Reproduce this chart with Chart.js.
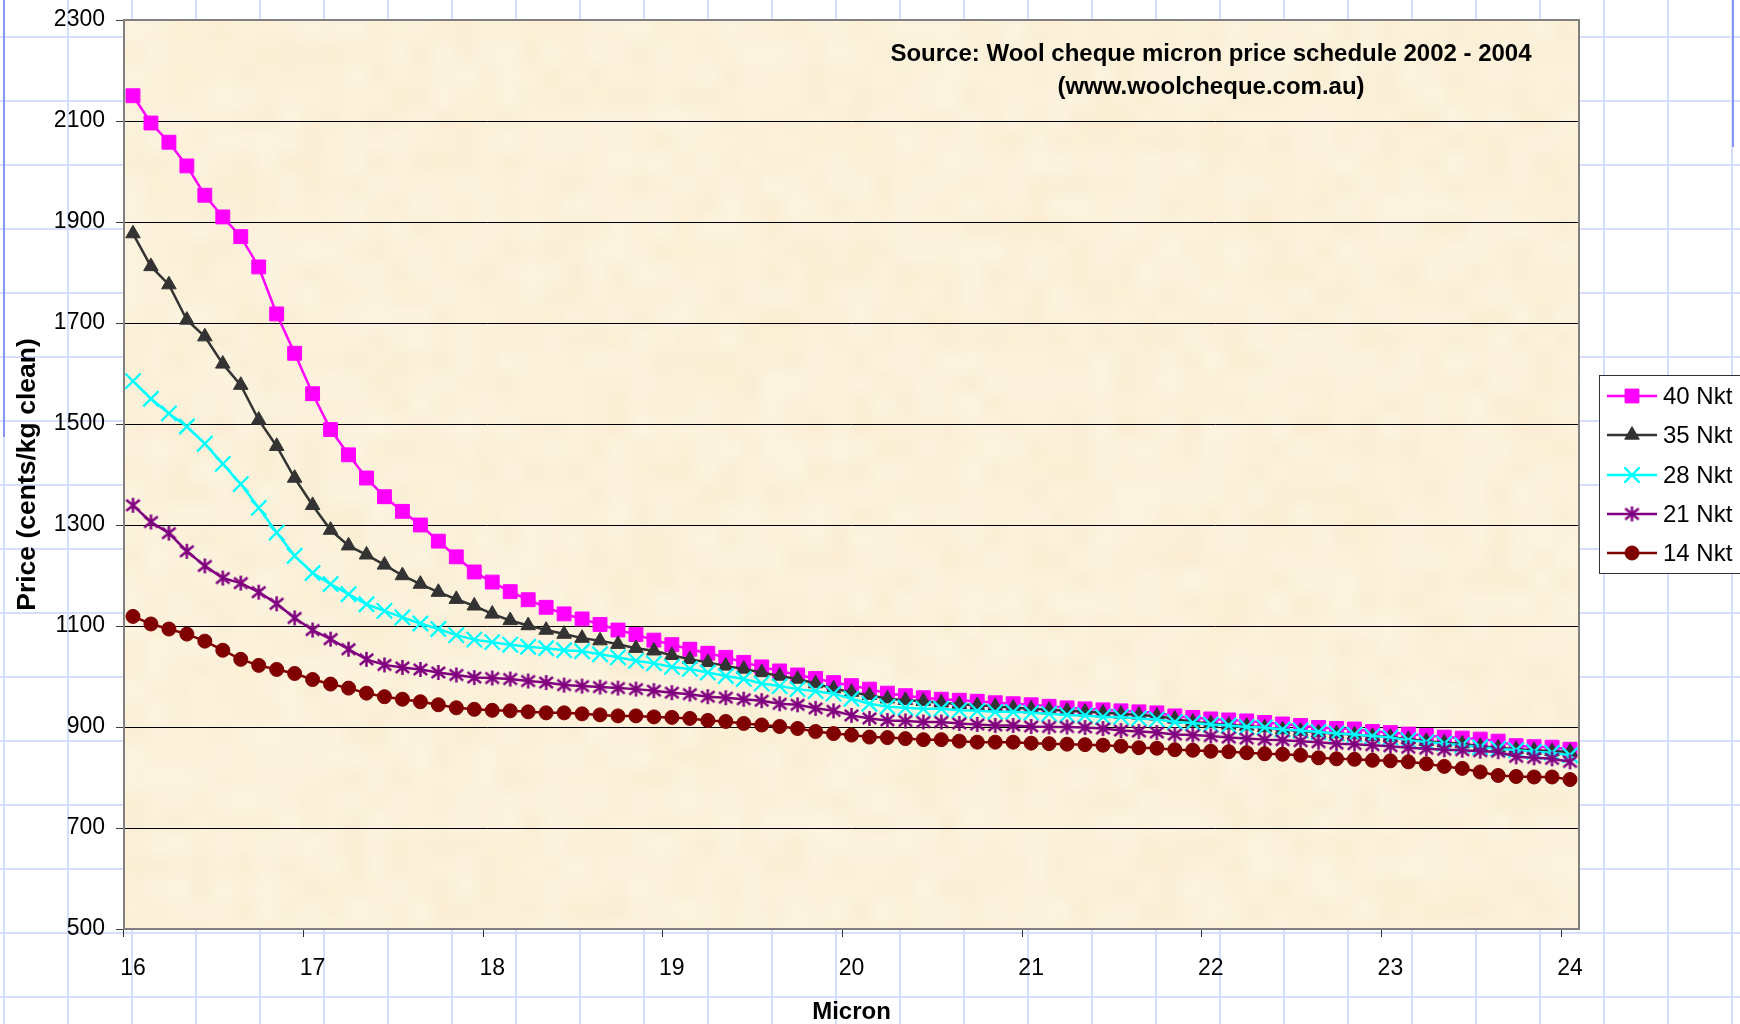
<!DOCTYPE html>
<html>
<head>
<meta charset="utf-8">
<title>Wool price by micron</title>
<script src="https://cdn.jsdelivr.net/npm/chart.js@4.4.1/dist/chart.umd.min.js"></script>
<style>
  html, body { margin: 0; padding: 0; width: 1740px; height: 1024px; overflow: hidden; }
  body {
    background-color: #ffffff;
    background-image:
      linear-gradient(to right, #d5defa 0, #d5defa 2px, transparent 2px),
      linear-gradient(to bottom, #d5defa 0, #d5defa 2px, transparent 2px);
    background-size: 64px 64px;
    background-position: 3px 36px;
  }
  .rule { position: absolute; top: 0; width: 2px; background: #8797f2; }
  #wrap { position: absolute; left: 0; top: 0; width: 1740px; height: 1024px; }
</style>
</head>
<body>
<div class="rule" style="left:3px;height:437px"></div>
<div class="rule" style="left:1732px;height:147px"></div>
<div id="wrap"><canvas id="c" width="1740" height="1024"></canvas></div>
<script>
// Fibre diameter (micron) categories
const microns = [
  16.0, 16.1, 16.2, 16.3, 16.4, 16.5, 16.6, 16.7, 16.8, 16.9,
  17.0, 17.1, 17.2, 17.3, 17.4, 17.5, 17.6, 17.7, 17.8, 17.9,
  18.0, 18.1, 18.2, 18.3, 18.4, 18.5, 18.6, 18.7, 18.8, 18.9,
  19.0, 19.1, 19.2, 19.3, 19.4, 19.5, 19.6, 19.7, 19.8, 19.9,
  20.0, 20.1, 20.2, 20.3, 20.4, 20.5, 20.6, 20.7, 20.8, 20.9,
  21.0, 21.1, 21.2, 21.3, 21.4, 21.5, 21.6, 21.7, 21.8, 21.9,
  22.0, 22.1, 22.2, 22.3, 22.4, 22.5, 22.6, 22.7, 22.8, 22.9,
  23.0, 23.1, 23.2, 23.3, 23.4, 23.5, 23.6, 23.7, 23.8, 23.9,
  24.0
];

// Price, cents/kg clean, per staple strength class
const nkt40 = [
  2150, 2096, 2058, 2011, 1953, 1910, 1871, 1811, 1718, 1640,
  1560, 1489, 1439, 1393, 1356, 1327, 1300, 1268, 1237, 1207,
  1187, 1168, 1152, 1137, 1124, 1114, 1103, 1092, 1083, 1072,
  1063, 1054, 1046, 1038, 1028, 1019, 1011, 1003, 996, 988,
  982, 975, 967, 962, 958, 955, 953, 951, 948, 946,
  944, 941, 938, 936, 934, 932, 930, 928, 922, 919,
  916, 914, 912, 909, 906, 903, 899, 897, 896, 891,
  889, 886, 883, 880, 878, 876, 872, 863, 861, 860,
  856
];
const nkt35 = [
  1877, 1812, 1776, 1706, 1673, 1619, 1577, 1508, 1456, 1393,
  1339, 1290, 1259, 1241, 1221, 1200, 1183, 1167, 1153, 1140,
  1124, 1111, 1101, 1092, 1084, 1076, 1071, 1064, 1056, 1051,
  1042, 1034, 1028, 1021, 1015, 1008, 1001, 995, 986, 976,
  969, 963, 956, 953, 951, 948, 945, 943, 941, 938,
  936, 934, 932, 930, 928, 926, 924, 922, 916, 910,
  907, 904, 902, 899, 895, 892, 889, 887, 885, 882,
  880, 876, 872, 869, 867, 862, 859, 856, 854, 852,
  851
];
const nkt28 = [
  1585, 1550, 1521, 1495, 1461, 1421, 1381, 1334, 1285, 1239,
  1205, 1183, 1163, 1143, 1130, 1117, 1105, 1094, 1082, 1073,
  1068, 1063, 1059, 1056, 1052, 1050, 1044, 1038, 1031, 1026,
  1019, 1015, 1008, 1001, 995, 986, 981, 975, 971, 966,
  956, 946, 940, 938, 936, 936, 933, 932, 930, 930,
  928, 926, 924, 923, 920, 920, 917, 915, 910, 908,
  905, 903, 900, 899, 895, 893, 890, 887, 885, 882,
  879, 874, 870, 867, 864, 860, 857, 854, 851, 849,
  844
];
const nkt21 = [
  1339, 1306, 1284, 1248, 1219, 1195, 1185, 1167, 1144, 1116,
  1092, 1074, 1054, 1034, 1023, 1018, 1014, 1008, 1003, 998,
  997, 995, 991, 988, 983, 981, 979, 977, 975, 972,
  968, 965, 960, 958, 955, 952, 946, 944, 937, 932,
  923, 917, 913, 912, 910, 910, 907, 905, 903, 903,
  901, 900, 900, 899, 897, 893, 891, 889, 885, 884,
  882, 879, 877, 875, 874, 872, 870, 867, 866, 864,
  862, 859, 857, 855, 854, 852, 851, 841, 839, 837,
  831
];
const nkt14 = [
  1119, 1104, 1094, 1084, 1070, 1052, 1034, 1022, 1014, 1006,
  994, 985, 977, 967, 960, 955, 950, 944, 938, 935,
  933, 932, 930, 928, 928, 926, 924, 922, 922, 920,
  919, 917, 913, 911, 907, 904, 901, 897, 891, 887,
  884, 880, 879, 877, 875, 875, 872, 870, 870, 870,
  868, 867, 866, 865, 864, 862, 859, 858, 855, 854,
  852, 851, 849, 847, 846, 844, 839, 837, 836, 834,
  833, 831, 827, 822, 818, 811, 804, 802, 801, 801,
  796
];

const seriesNames = ['40 Nkt', '35 Nkt', '28 Nkt', '21 Nkt', '14 Nkt'];
const xTickLabels = ['16', '17', '18', '19', '20', '21', '22', '23', '24'];
const yMin = 500, yMax = 2300, yStep = 200;
const sourceLines = ['Source: Wool cheque micron price schedule 2002 - 2004', '(www.woolcheque.com.au)'];

const FONT = '"Liberation Sans", Arial, Helvetica, sans-serif';

// Excel-style asterisk marker: a vertical stroke crossed by an X
function makeAsterisk(color, size, lw) {
  const c = document.createElement('canvas');
  c.width = size; c.height = size;
  const g = c.getContext('2d');
  g.strokeStyle = color;
  g.lineWidth = lw;
  const m = size / 2, r = size / 2 - 1, d = r * 0.9;
  g.beginPath();
  g.moveTo(m, m - r); g.lineTo(m, m + r);
  g.moveTo(m - d, m - d * 0.8); g.lineTo(m + d, m + d * 0.8);
  g.moveTo(m + d, m - d * 0.8); g.lineTo(m - d, m + d * 0.8);
  g.stroke();
  return c;
}

function noise(i, j) {
  const s = Math.sin(i * 127.1 + j * 311.7) * 43758.5453;
  return s - Math.floor(s);
}

// Parchment fill behind the plot, plot frame, source note and legend
const framePlugin = {
  id: 'frame',
  beforeDraw(chart) {
    const { ctx, chartArea: a } = chart;
    const w = Math.round(a.right - a.left), h = Math.round(a.bottom - a.top);
    const tex = document.createElement('canvas');
    tex.width = w; tex.height = h;
    const t = tex.getContext('2d');
    t.fillStyle = '#fcf1da';
    t.fillRect(0, 0, w, h);
    const cell = 22;
    for (let y = -cell; y < h + cell; y += cell) {
      for (let x = -cell; x < w + cell; x += cell) {
        const n = noise(Math.round(x / cell), Math.round(y / cell));
        t.fillStyle = n > 0.5
          ? 'rgba(240,220,176,' + ((n - 0.5) * 0.32).toFixed(3) + ')'
          : 'rgba(255,253,246,' + ((0.5 - n) * 0.5).toFixed(3) + ')';
        t.fillRect(x, y, cell, cell);
      }
    }
    ctx.save();
    ctx.fillStyle = '#fcf1da';
    ctx.fillRect(a.left, a.top, w, h);
    ctx.beginPath();
    ctx.rect(a.left, a.top, w, h);
    ctx.clip();
    ctx.filter = 'blur(6px)';
    ctx.drawImage(tex, a.left, a.top);
    ctx.filter = 'none';
    ctx.restore();
  },
  afterDraw(chart) {
    const { ctx, chartArea: a } = chart;
    ctx.save();
    // plot frame
    ctx.strokeStyle = '#808080';
    ctx.lineWidth = 2;
    ctx.strokeRect(a.left, a.top, a.right - a.left, a.bottom - a.top);

    // source note
    ctx.fillStyle = '#000000';
    ctx.font = 'bold 24px ' + FONT;
    ctx.textAlign = 'center';
    ctx.textBaseline = 'middle';
    ctx.fillText(sourceLines[0], 1211, 54);
    ctx.fillText(sourceLines[1], 1211, 87);

    // legend
    const lx = 1599, ly = 375, lw = 160, lh = 198;
    ctx.fillStyle = '#ffffff';
    ctx.fillRect(lx, ly, lw, lh);
    ctx.strokeStyle = '#333333';
    ctx.lineWidth = 1;
    ctx.strokeRect(lx + 0.5, ly + 0.5, lw, lh);
    const rowY = [396, 435, 475, 514, 553];
    chart.data.datasets.forEach((ds, i) => {
      const y = rowY[i];
      ctx.strokeStyle = ds.borderColor;
      ctx.lineWidth = ds.borderWidth;
      ctx.beginPath();
      ctx.moveTo(1607, y); ctx.lineTo(1657, y);
      ctx.stroke();
      ctx.fillStyle = ds.pointBackgroundColor;
      ctx.strokeStyle = ds.pointBorderColor;
      ctx.lineWidth = ds.pointBorderWidth;
      Chart.helpers.drawPoint(ctx, {
        pointStyle: ds.pointStyle, radius: ds.pointRadius,
        rotation: 0, borderWidth: ds.pointBorderWidth
      }, 1632, y);
      ctx.fillStyle = '#000000';
      ctx.font = '24px ' + FONT;
      ctx.textAlign = 'left';
      ctx.textBaseline = 'middle';
      ctx.fillText(ds.label, 1663, y + 1);
    });
    ctx.restore();
  }
};

function series(i, data, color, style, radius, pointBorderWidth, order) {
  return {
    label: seriesNames[i],
    data: data,
    borderColor: color,
    backgroundColor: color,
    borderWidth: 2.5,
    pointStyle: style,
    pointRadius: radius,
    pointHoverRadius: radius,
    pointBackgroundColor: color,
    pointBorderColor: color,
    pointBorderWidth: pointBorderWidth,
    tension: 0,
    fill: false,
    order: order
  };
}

const datasets = [
  series(0, nkt40, '#ff00ff', 'rect', 9.8, 1, 5),
  series(1, nkt35, '#333333', 'triangle', 8.4, 1, 4),
  series(2, nkt28, '#00ffff', 'crossRot', 10.8, 2.3, 3),
  series(3, nkt21, '#800080', makeAsterisk('#800080', 17, 2.5), 8, 1, 2),
  series(4, nkt14, '#800000', 'circle', 7.0, 1, 1)
];

new Chart(document.getElementById('c'), {
  type: 'line',
  data: { labels: microns.map(m => m.toFixed(1)), datasets: datasets },
  plugins: [framePlugin],
  options: {
    responsive: false,
    animation: false,
    layout: { padding: { top: 20, right: 161, bottom: 0, left: 0 } },
    plugins: { legend: { display: false }, tooltip: { enabled: false } },
    scales: {
      x: {
        type: 'category',
        offset: true,
        afterFit: s => { s.height = 95; },
        border: { display: false },
        grid: {
          offset: true,
          drawOnChartArea: false,
          drawTicks: true,
          tickLength: 8,
          lineWidth: 1,
          color: c => (c.index % 10 === 0 ? '#333333' : 'rgba(0,0,0,0)'),
          tickColor: c => (c.index % 10 === 0 ? '#333333' : 'rgba(0,0,0,0)')
        },
        ticks: {
          autoSkip: false,
          maxRotation: 0,
          minRotation: 0,
          padding: 18,
          color: '#000000',
          font: { family: FONT, size: 23 },
          callback: (v, i) => (i % 10 === 0 ? xTickLabels[i / 10] : '')
        },
        title: {
          display: true,
          text: 'Micron',
          color: '#000000',
          font: { family: FONT, size: 24, weight: 'bold', lineHeight: 1 },
          padding: { top: 0, bottom: 0 }
        }
      },
      y: {
        type: 'linear',
        min: yMin,
        max: yMax,
        afterFit: s => { s.width = 124; s.paddingTop = 0; s.paddingBottom = 0; },
        border: { display: false },
        grid: {
          drawTicks: true,
          tickLength: 8,
          lineWidth: 1,
          color: c => (c.tick && (c.tick.value === yMin || c.tick.value === yMax) ? 'rgba(0,0,0,0)' : '#000000'),
          tickColor: '#404040'
        },
        ticks: {
          stepSize: yStep,
          padding: 11,
          color: '#000000',
          font: { family: FONT, size: 23, lineHeight: 1 },
          callback: v => String(v)
        },
        title: {
          display: true,
          text: 'Price (cents/kg clean)',
          color: '#000000',
          font: { family: FONT, size: 26.5, weight: 'bold', lineHeight: 1.2 },
          padding: { top: 12, bottom: 0 }
        }
      }
    }
  }
});
</script>
</body>
</html>
